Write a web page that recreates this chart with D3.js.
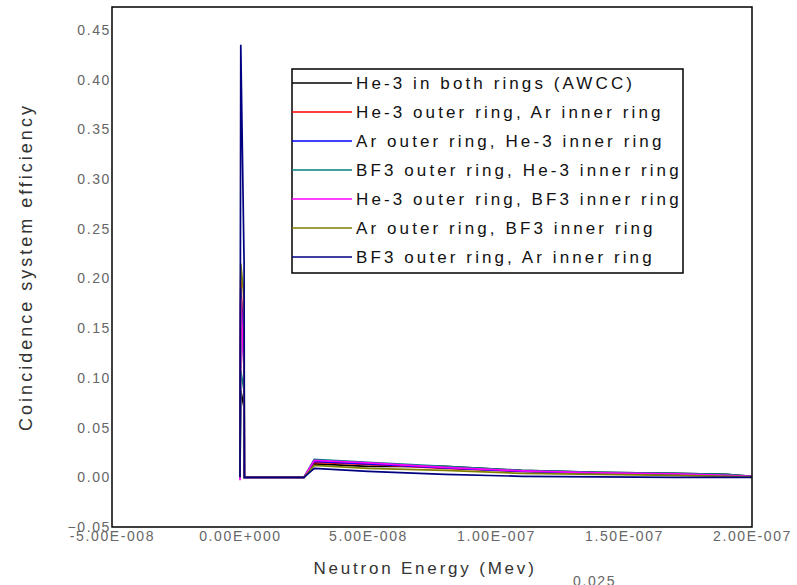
<!DOCTYPE html>
<html>
<head>
<meta charset="utf-8">
<script src="https://cdn.jsdelivr.net/npm/d3@7"></script>
<style>
    body { margin: 0; background: #fff; }
    svg { display: block; font-family: "Liberation Sans", Arial, sans-serif; }
</style>
</head>
<body>
<div id="chart"></div>
<script>
// Neutron energy points (MeV)
const energies = [0, 3e-10, 1.6e-9, 1.7e-9, 2.5e-8, 2.9e-8, 5e-8, 8e-8, 1.1e-7, 1.4e-7, 1.7e-7, 1.9e-7, 2e-7];

// Coincidence efficiency for each detector configuration
const awcc        = [0, 0.087, 0.070, 0, 0, 0.0135, 0.011, 0.011, 0.007, 0.005, 0.004, 0.003, 0.001];
const he3OutArIn  = [0, 0.200, 0.120, 0, 0, 0.015, 0.013, 0.009, 0.006, 0.004, 0.003, 0.002, 0.001];
const arOutHe3In  = [0, 0.190, 0.110, 0, 0, 0.016, 0.0135, 0.0095, 0.006, 0.004, 0.003, 0.002, 0.001];
const bf3OutHe3In = [0, 0.107, 0.087, 0, 0, 0.018, 0.015, 0.011, 0.007, 0.005, 0.004, 0.003, 0.001];
const he3OutBf3In = [-0.003, 0.180, 0.107, 0, 0, 0.017, 0.0145, 0.010, 0.0065, 0.0045, 0.0035, 0.002, 0.001];
const arOutBf3In  = [0, 0.215, 0.180, 0, 0, 0.012, 0.009, 0.007, 0.004, 0.003, 0.002, 0.001, 0.0005];
const bf3OutArIn  = [0, 0.435, 0.215, 0, 0, 0.009, 0.006, 0.003, 0.001, 0.0005, 0, 0, 0];

const seriesNames = [
    "He-3 in both rings (AWCC)",
    "He-3 outer ring, Ar inner ring",
    "Ar outer ring, He-3 inner ring",
    "BF3 outer ring, He-3 inner ring",
    "He-3 outer ring, BF3 inner ring",
    "Ar outer ring, BF3 inner ring",
    "BF3 outer ring, Ar inner ring"
];
const seriesValues = [awcc, he3OutArIn, arOutHe3In, bf3OutHe3In, he3OutBf3In, arOutBf3In, bf3OutArIn];
const seriesColors = ["#000000", "#ff0000", "#0000ff", "#008080", "#ff00ff", "#808000", "#000080"];

const xTicks = [-5e-8, 0, 5e-8, 1e-7, 1.5e-7, 2e-7];
const xTickLabels = ["-5.00E-008", "0.00E+000", "5.00E-008", "1.00E-007", "1.50E-007", "2.00E-007"];
const yTicks = [-0.05, 0, 0.05, 0.1, 0.15, 0.2, 0.25, 0.3, 0.35, 0.4, 0.45];

const width = 797, height = 585;
const plot = {left: 112, right: 752, top: 7, bottom: 527};

const svg = d3.select('#chart')
    .append('svg')
    .attr('width', width)
    .attr('height', height);

// Scales
const xScale = d3.scaleLinear()
    .domain([-5e-8, 2e-7])
    .range([plot.left, plot.right]);

const yScale = d3.scaleLinear()
    .domain([-0.05, 0.473])
    .range([plot.bottom, plot.top]);

// Series lines
const line = d3.line()
    .x((d, i) => xScale(energies[i]))
    .y(d => yScale(d));

seriesValues.forEach((vals, i) => {
    svg.append('path')
        .datum(vals)
        .attr('d', line)
        .attr('fill', 'none')
        .attr('stroke', seriesColors[i])
        .attr('stroke-width', 1.7);
});

// Frame
svg.append('rect')
    .attr('x', plot.left)
    .attr('y', plot.top)
    .attr('width', plot.right - plot.left)
    .attr('height', plot.bottom - plot.top)
    .attr('fill', 'none')
    .attr('stroke', '#000')
    .attr('stroke-width', 1.5);

// Y axis labels
const yAxis = svg.append('g')
    .attr('transform', `translate(${plot.left},0)`)
    .call(d3.axisLeft(yScale).tickValues(yTicks).tickSize(0).tickPadding(1).tickFormat(d3.format('.2f')));
yAxis.select('.domain').remove();
yAxis.selectAll('text')
    .style('font-size', '14px')
    .style('letter-spacing', '1.6px')
    .style('font-family', '"Liberation Sans", Arial, sans-serif')
    .attr('fill', '#666');

// X axis labels
const xAxis = svg.append('g')
    .attr('transform', `translate(0,${plot.bottom})`)
    .call(d3.axisBottom(xScale).tickValues(xTicks).tickSize(0).tickPadding(4)
        .tickFormat((d, i) => xTickLabels[i]));
xAxis.select('.domain').remove();
xAxis.selectAll('text')
    .style('font-size', '14px')
    .style('letter-spacing', '1.6px')
    .style('font-family', '"Liberation Sans", Arial, sans-serif')
    .attr('fill', '#666');

// Axis titles
svg.append('text')
    .attr('transform', `translate(32,${(plot.top + plot.bottom) / 2}) rotate(-90)`)
    .attr('text-anchor', 'middle')
    .style('font-size', '18px')
    .style('letter-spacing', '3px')
    .attr('fill', '#333')
    .text('Coincidence system efficiency');

svg.append('text')
    .attr('x', 425)
    .attr('y', 574)
    .attr('text-anchor', 'middle')
    .style('font-size', '17px')
    .style('letter-spacing', '2.8px')
    .attr('fill', '#333')
    .text('Neutron Energy (Mev)');

svg.append('text')
    .attr('x', 573)
    .attr('y', 586)
    .style('font-size', '14px')
    .style('letter-spacing', '1.6px')
    .attr('fill', '#666')
    .text('0.025');

// Legend
const legend = {x: 292, y: 69, w: 391, h: 204, rowStart: 83, rowStep: 29};
const lg = svg.append('g');
lg.append('rect')
    .attr('x', legend.x)
    .attr('y', legend.y)
    .attr('width', legend.w)
    .attr('height', legend.h)
    .attr('fill', '#fff')
    .attr('stroke', '#000')
    .attr('stroke-width', 1.5);

seriesNames.forEach((name, i) => {
    const y = legend.rowStart + i * legend.rowStep;
    lg.append('line')
        .attr('x1', legend.x)
        .attr('x2', legend.x + 60)
        .attr('y1', y)
        .attr('y2', y)
        .attr('stroke', seriesColors[i])
        .attr('stroke-width', 1.6);
    lg.append('text')
        .attr('x', legend.x + 64)
        .attr('y', y)
        .attr('dy', '0.36em')
        .style('font-size', '17px')
        .style('letter-spacing', '3.1px')
        .attr('fill', '#111')
        .text(name);
});
</script>
</body>
</html>
